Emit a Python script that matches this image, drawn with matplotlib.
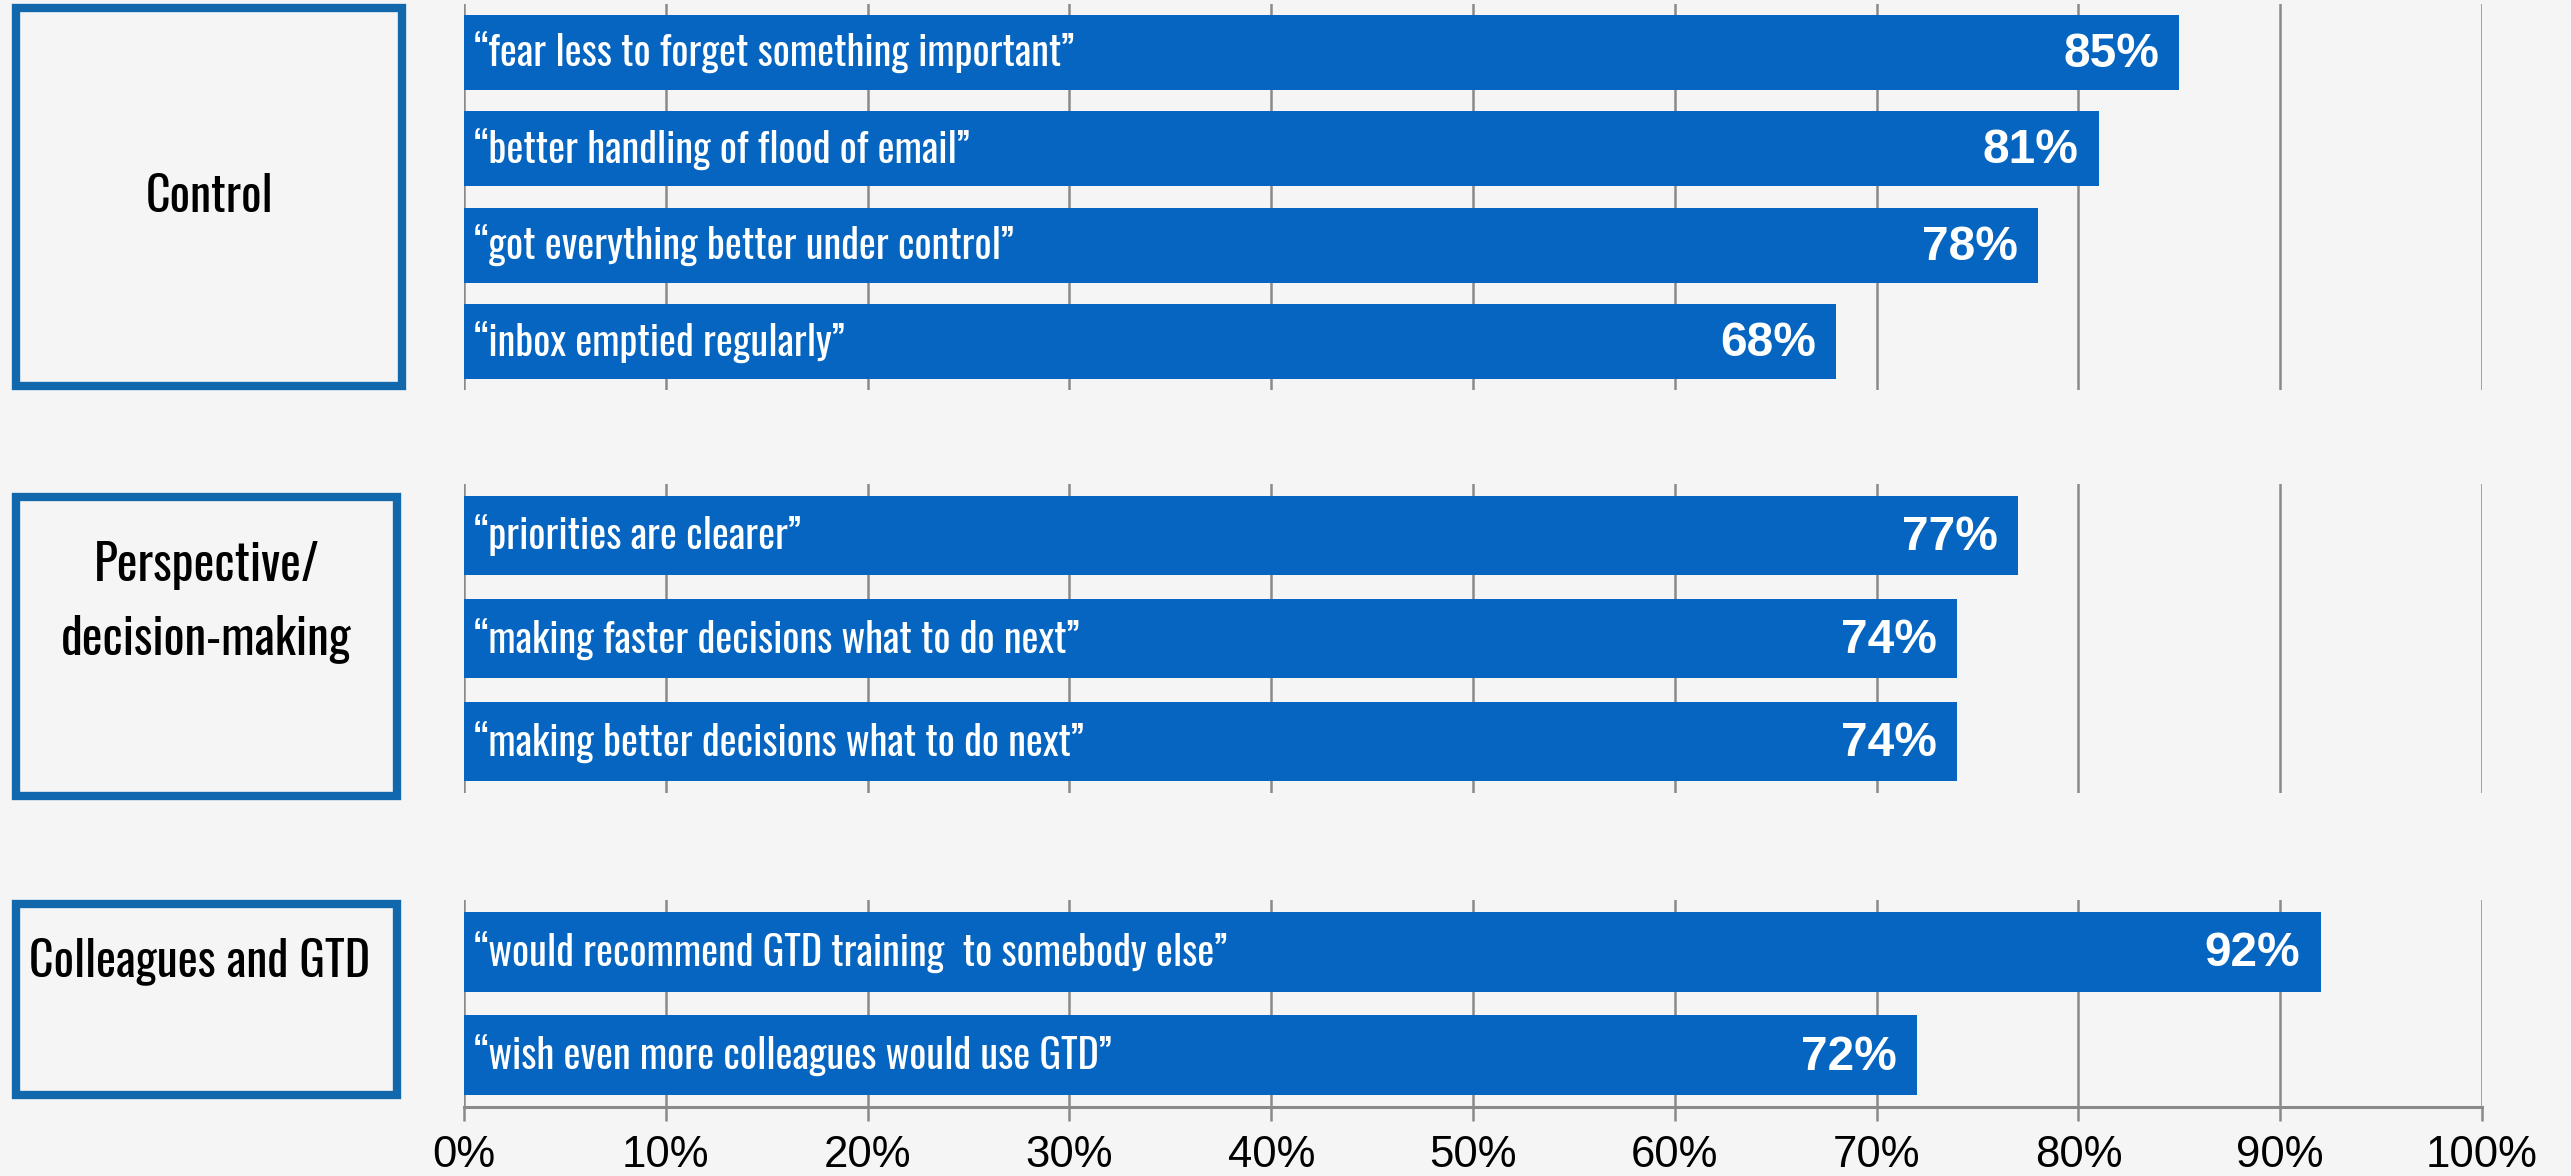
import matplotlib.pyplot as plt
from matplotlib.patches import Rectangle

# data
groups = ["Control", "Perspective/\ndecision-making", "Colleagues and GTD"]

control_labels = [
    "\u201cfear less to forget something important\u201d",
    "\u201cbetter handling of flood of email\u201d",
    "\u201cgot everything better under control\u201d",
    "\u201cinbox emptied regularly\u201d",
]
control_values = [85, 81, 78, 68]

perspective_labels = [
    "\u201cpriorities are clearer\u201d",
    "\u201cmaking faster decisions what to do next\u201d",
    "\u201cmaking better decisions what to do next\u201d",
]
perspective_values = [77, 74, 74]

colleagues_labels = [
    "\u201cwould recommend GTD training  to somebody else\u201d",
    "\u201cwish even more colleagues would use GTD\u201d",
]
colleagues_values = [92, 72]

xticks = list(range(0, 101, 10))
xtick_labels = [f"{t}%" for t in xticks]

bg = "#f5f5f5"
bar_col = "#0565c0"
box_col = "#1268ad"
grid_col = "#8a8a8a"
narrow = ["Oswald", "Fira Sans Extra Condensed", "DejaVu Sans"]

fig = plt.figure(figsize=(25.71, 11.76), dpi=100)
fig.patch.set_facecolor(bg)

W, H = 2571, 1176


def fx(px):
    return px / W


def fy(py):
    return 1 - py / H


x0, x1 = 464, 2482
panels = [
    # labels, values, (top, bottom) of axes in px, box (left, top, right, bottom), bar height
    (control_labels, control_values, (4, 390), (16, 8, 402, 386), 0.78),
    (perspective_labels, perspective_values, (484, 793), (16, 497, 397, 796), 0.77),
    (colleagues_labels, colleagues_values, (900, 1107), (16, 904, 397, 1095), 0.77),
]

for i, (labels, values, (top, bottom), box, bh) in enumerate(panels):
    ax = fig.add_axes([fx(x0), fy(bottom), fx(x1) - fx(x0), (bottom - top) / H])
    ax.set_facecolor("none")
    n = len(values)
    ypos = list(range(n))
    ax.barh(ypos, values, height=bh, color=bar_col, zorder=2)
    ax.set_xlim(0, 100)
    ax.set_ylim(n - 0.5, -0.5)
    ax.set_xticks(xticks)
    ax.grid(axis="x", color=grid_col, linewidth=1.8, zorder=0)
    ax.set_yticks([])
    for s in ["top", "right", "left"]:
        ax.spines[s].set_visible(False)

    for y, lab, v in zip(ypos, labels, values):
        ax.text(0.5, y, lab, color="white", fontsize=29, family=narrow,
                va="center", ha="left", zorder=3)
        ax.text(v - 1.0, y + 0.02, f"{v}%", color="white", fontsize=34.5,
                family="Liberation Sans", fontweight="bold",
                va="center", ha="right", zorder=3)

    if i == 2:
        ax.spines["bottom"].set_color(grid_col)
        ax.spines["bottom"].set_linewidth(2.2)
        ax.tick_params(axis="x", direction="out", length=10, width=1.8,
                       color=grid_col, pad=10, labelsize=31.5)
        ax.set_xticklabels(xtick_labels, family="Liberation Sans")
    else:
        ax.spines["bottom"].set_visible(False)
        ax.tick_params(axis="x", length=0, labelbottom=False)

    # group box
    bl, bt, br, bb = box
    bax = fig.add_axes([fx(bl), fy(bb), fx(br) - fx(bl), (bb - bt) / H])
    bax.set_xlim(0, 1)
    bax.set_ylim(0, 1)
    bax.axis("off")
    bax.add_patch(Rectangle((0, 0), 1, 1, transform=bax.transAxes,
                            facecolor=bg, edgecolor=box_col, linewidth=6,
                            clip_on=False))
    if i == 0:
        bax.text(0.5, 0.5, groups[0], fontsize=34.5, family=narrow,
                 ha="center", va="center", color="black")
    elif i == 1:
        bax.text(0.5, 0.65, groups[1], fontsize=35.5, family=narrow,
                 ha="center", va="center", color="black", linespacing=1.6)
    else:
        bax.text(0.035, 0.70, groups[2], fontsize=34.5, family=narrow,
                 ha="left", va="center", color="black")

fig.savefig("out.png", dpi=100, facecolor=bg)
